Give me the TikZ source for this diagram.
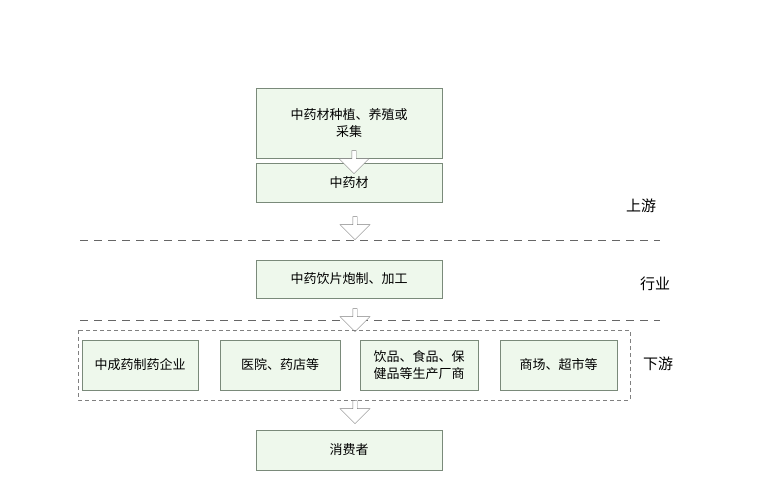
\documentclass[tikz,border=0pt]{standalone}
\usepackage{fontspec}
\newfontfamily\cjk{Noto Sans CJK SC}
\usetikzlibrary{shapes.arrows, positioning}
\definecolor{boxFill}{HTML}{EEF8EC}
\definecolor{boxLine}{HTML}{7A8A7A}
\tikzset{
    stageBox/.style={draw=boxLine, fill=boxFill, line width=0.8pt, minimum width=186pt, align=center, font=\cjk\fontsize{13}{17}\selectfont},
    subBox/.style={draw=boxLine, fill=boxFill, line width=0.8pt, minimum height=50pt, align=center, font=\cjk\fontsize{13}{17}\selectfont},
    flowArrow/.style={single arrow, draw=gray, fill=white, rotate=-90, minimum height=23pt, minimum width=30pt, single arrow head extend=7pt, inner sep=1pt},
    sepLine/.style={dashed, dash pattern=on 8pt off 6pt, line width=0.9pt, draw=gray!80!black},
    sideLabel/.style={font=\cjk\fontsize{15}{18}\selectfont},
}
\begin{document}
\begin{tikzpicture}[x=1pt, y=-1pt]
    \useasboundingbox (0,0) rectangle (760,500);

    \node[stageBox, minimum height=70pt] (grow) at (349,123) {中药材种植、养殖或\\采集};
    \node[stageBox, minimum height=39pt] (herb) at (349,182.5) {中药材};
    \node[flowArrow] (a1) at (354,161) {};
    \node[flowArrow] (a2) at (355,227) {};

    \draw[sepLine] (80,240) -- (660,240);
    \node[sideLabel] (up) at (641,206) {上游};

    \node[stageBox, minimum height=38pt] (proc) at (349,279) {中药饮片炮制、加工};
    \node[sideLabel] (mid) at (655,284) {行业};

    \draw[sepLine] (80,320) -- (660,320);
    \node[flowArrow] (a3) at (355,319) {};

    \draw[dashed, dash pattern=on 4pt off 3pt, draw=gray] (78,330) rectangle (630,400);
    \node[sideLabel] (down) at (658,364) {下游};
    \node[subBox, minimum width=116pt] (s1) at (140,365) {中成药制药企业};
    \node[subBox, minimum width=120pt] (s2) at (280,365) {医院、药店等};
    \node[subBox, minimum width=118pt] (s3) at (419,365) {饮品、食品、保\\健品等生产厂商};
    \node[subBox, minimum width=117pt] (s4) at (558.5,365) {商场、超市等};

    \node[flowArrow] (a4) at (355,411) {};
    \node[stageBox, minimum height=40pt] (user) at (349,450) {消费者};
\end{tikzpicture}
\end{document}
